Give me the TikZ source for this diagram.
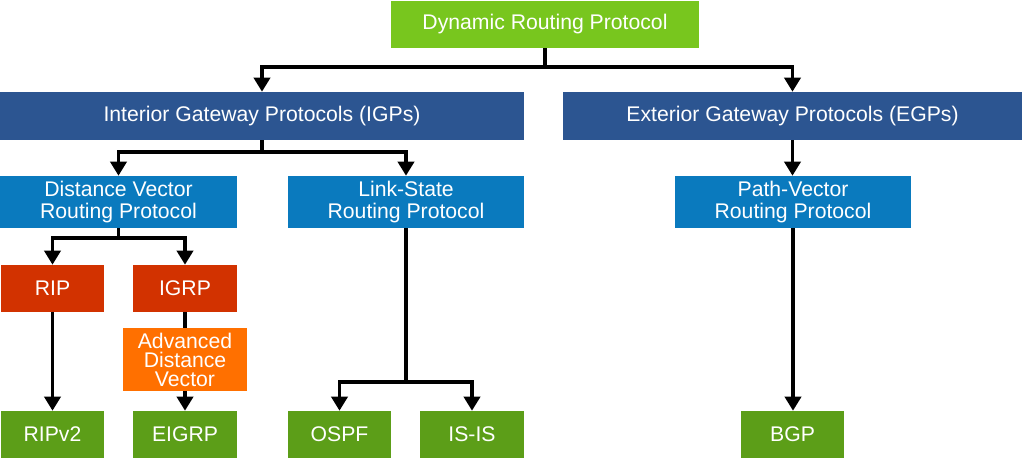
\documentclass[tikz,border=0pt]{standalone}
\usepackage{fontspec}
\setmainfont{Liberation Sans}
\usetikzlibrary{arrows.meta,positioning}
\definecolor{topgreen}{RGB}{120,198,30}
\definecolor{darkblue}{RGB}{44,85,145}
\definecolor{midblue}{RGB}{10,122,190}
\definecolor{protored}{RGB}{210,50,0}
\definecolor{advorange}{RGB}{255,112,0}
\definecolor{leafgreen}{RGB}{92,158,24}
\begin{document}
\begin{tikzpicture}
	[x=0.75pt,y=-0.75pt,
	box/.style={shape=rectangle,fill=#1,text=white,inner sep=0pt,align=center,font=\fontsize{15.9}{16.3}\selectfont},
	link/.style={draw=black,line width=2.7pt,-{Triangle[width=12pt,length=10.5pt]}},
	plain/.style={draw=black,line width=2.7pt}]
	\useasboundingbox (0,0) rectangle (1022,460);
	\node [box=topgreen,minimum width=231pt,minimum height=35.25pt] (drp) at (545,24.5) {Dynamic Routing Protocol};
	\node [box=darkblue,minimum width=393pt,minimum height=36pt] (igp) at (262,116) {Interior Gateway Protocols (IGPs)};
	\node [box=darkblue,minimum width=344.25pt,minimum height=36pt] (egp) at (792.5,116) {Exterior Gateway Protocols (EGPs)};
	\node [box=midblue,minimum width=177.75pt,minimum height=39pt] (dv) at (118.5,202) {Distance Vector\\Routing Protocol};
	\node [box=midblue,minimum width=177pt,minimum height=39pt] (ls) at (406,202) {Link-State\\Routing Protocol};
	\node [box=midblue,minimum width=177pt,minimum height=39pt] (pv) at (793,202) {Path-Vector\\Routing Protocol};
	\node [box=protored,minimum width=77.25pt,minimum height=35.25pt] (rip) at (52.5,288.5) {RIP};
	\node [box=protored,minimum width=78pt,minimum height=35.25pt] (igrp) at (185,288.5) {IGRP};
	\node [box=advorange,minimum width=93pt,minimum height=47.25pt,font=\fontsize{15.9}{14.3}\selectfont] (adv) at (185,359.5) {Advanced\\Distance\\Vector};
	\node [box=leafgreen,minimum width=77.25pt,minimum height=35.25pt] (ripv2) at (52.5,434.5) {RIPv2};
	\node [box=leafgreen,minimum width=78pt,minimum height=35.25pt] (eigrp) at (185,434.5) {EIGRP};
	\node [box=leafgreen,minimum width=77.25pt,minimum height=35.25pt] (ospf) at (339.5,434.5) {OSPF};
	\node [box=leafgreen,minimum width=78pt,minimum height=35.25pt] (isis) at (472,434.5) {IS-IS};
	\node [box=leafgreen,minimum width=77.25pt,minimum height=35.25pt] (bgp) at (792.5,434.5) {BGP};
	
	\draw [link] (drp.south) -- ++(0,19) -| (igp.north);
	\draw [link] (drp.south) -- ++(0,19) -| (egp.north);
	\draw [link] (igp.south) -- ++(0,12) -| (dv.north);
	\draw [link] (igp.south) -- ++(0,12) -| (ls.north);
	\draw [link] (dv.south) -- ++(0,10) -| (rip.north);
	\draw [link] (dv.south) -- ++(0,10) -| (igrp.north);
	\draw [plain] (igrp.south) -- (adv.north);
	\draw [link] (adv.south) -- (eigrp.north);
	\draw [link] (rip.south) -- (ripv2.north);
	\draw [link] (ls.south) -- ++(0,154) -| (ospf.north);
	\draw [link] (ls.south) -- ++(0,154) -| (isis.north);
	\draw [link] (egp.south) -- (egp.south |- pv.north);
	\draw [link] (pv.south) -- (pv.south |- bgp.north);
	
\end{tikzpicture}
\end{document}
